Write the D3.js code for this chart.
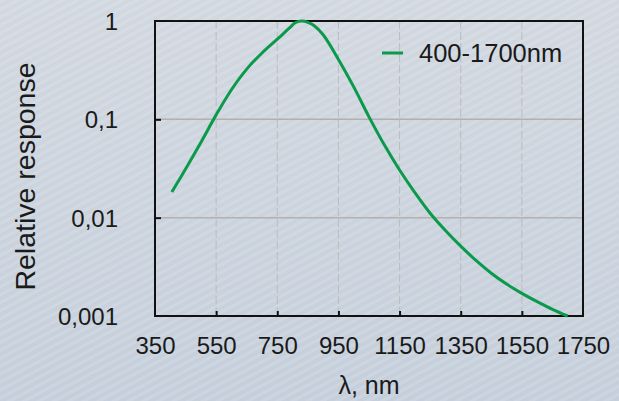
<!DOCTYPE html>
<html>
<head>
<meta charset="utf-8">
<script src="https://cdn.jsdelivr.net/npm/d3@7"></script>
<style>
  html, body { margin: 0; padding: 0; background: #ccd4de; }
  svg { display: block; font-family: "Liberation Sans", Arial, sans-serif; }
</style>
</head>
<body>
<svg id="chart" width="619" height="401"></svg>
<script>
// values
const wavelength = [405, 450, 500, 550, 600, 650, 700, 750, 790, 810, 830, 850, 870, 900, 950, 1000,
  1050, 1100, 1150, 1200, 1250, 1300, 1350, 1400, 1450, 1500, 1550, 1600, 1650, 1700];
const response = [0.0182, 0.0313, 0.0582, 0.111, 0.20, 0.324, 0.473, 0.653, 0.851, 0.965, 1.0, 0.97, 0.90, 0.724, 0.407, 0.214,
  0.106, 0.055, 0.0305, 0.018, 0.0111, 0.00741, 0.00513, 0.00367, 0.00272, 0.00211, 0.0017, 0.0014, 0.00117, 0.001];
const seriesName = "400-1700nm";
const xTicks = [350, 550, 750, 950, 1150, 1350, 1550, 1750];
const yTicks = [0.001, 0.01, 0.1, 1];
const yTickLabels = ["0,001", "0,01", "0,1", "1"];

const width = 619, height = 401;
const margin = { top: 21, right: 36, bottom: 85, left: 155 };
const green = "#0b9a4b";

const svg = d3.select("#chart");

// background: bluish gradient with faint diagonal stripes
const defs = svg.append("defs");
const grad = defs.append("linearGradient")
  .attr("id", "bg").attr("x1", 0).attr("y1", 0).attr("x2", 0).attr("y2", 1);
grad.append("stop").attr("offset", "0%").attr("stop-color", "#d2d8e0");
grad.append("stop").attr("offset", "100%").attr("stop-color", "#c5cfdb");

const stripes = defs.append("pattern")
  .attr("id", "stripes")
  .attr("patternUnits", "userSpaceOnUse")
  .attr("width", 7).attr("height", 7)
  .attr("patternTransform", "rotate(-28)");
stripes.append("rect")
  .attr("width", 7).attr("height", 3)
  .attr("fill", "#ffffff").attr("opacity", 0.12);

svg.append("rect").attr("width", width).attr("height", height).attr("fill", "url(#bg)");
svg.append("rect").attr("width", width).attr("height", height).attr("fill", "url(#stripes)");

const x = d3.scaleLinear()
  .domain([350, 1750])
  .range([margin.left, width - margin.right]);

const y = d3.scaleLog()
  .domain([0.001, 1])
  .range([height - margin.bottom, margin.top]);

// grid
svg.append("g")
  .selectAll("line")
  .data(xTicks.slice(1, -1))
  .join("line")
  .attr("x1", d => x(d)).attr("x2", d => x(d))
  .attr("y1", y(1)).attr("y2", y(0.001))
  .attr("stroke", "#bcbcbc")
  .attr("stroke-width", 1)
  .attr("stroke-dasharray", "8,3");

svg.append("g")
  .selectAll("line")
  .data(yTicks.slice(1, -1))
  .join("line")
  .attr("x1", x(350)).attr("x2", x(1750))
  .attr("y1", d => y(d)).attr("y2", d => y(d))
  .attr("stroke", "#b6b0ab")
  .attr("stroke-width", 1.5);

// axes (ticks pointing inwards)
const xAxis = svg.append("g")
  .attr("transform", `translate(0,${y(0.001)})`)
  .call(d3.axisBottom(x).tickValues(xTicks).tickFormat(d3.format("d"))
    .tickSizeInner(-5).tickSizeOuter(0).tickPadding(10));

const yAxis = svg.append("g")
  .attr("transform", `translate(${x(350)},0)`)
  .call(d3.axisLeft(y).tickValues(yTicks).tickFormat((d, i) => yTickLabels[i])
    .tickSizeInner(-6).tickSizeOuter(0).tickPadding(37));

[xAxis, yAxis].forEach(g => {
  g.select(".domain").remove();
  g.selectAll(".tick line").attr("stroke", "#111").attr("stroke-width", 2);
  g.selectAll(".tick text").attr("fill", "#1a1a1a").attr("font-size", 24)
    .attr("font-family", "'Liberation Sans', Arial, sans-serif");
});
xAxis.selectAll(".tick text").attr("dy", "0.72em").attr("y", 21);
yAxis.selectAll(".tick text").attr("dy", "0.36em");
yAxis.selectAll(".tick").filter(d => d === 0.001 || d === 1).select("line").remove();
xAxis.selectAll(".tick").filter(d => d === 350 || d === 1750).select("line").remove();

// frame
svg.append("rect")
  .attr("x", x(350)).attr("y", y(1))
  .attr("width", x(1750) - x(350))
  .attr("height", y(0.001) - y(1))
  .attr("fill", "none")
  .attr("stroke", "#111")
  .attr("stroke-width", 2);

// curve
const line = d3.line()
  .x((d, i) => x(wavelength[i]))
  .y(d => y(d))
  .curve(d3.curveCatmullRom.alpha(0.5));

svg.append("path")
  .datum(response)
  .attr("d", line)
  .attr("fill", "none")
  .attr("stroke", green)
  .attr("stroke-width", 3);

// legend
const legend = svg.append("g");
legend.append("line")
  .attr("x1", 382).attr("x2", 403)
  .attr("y1", 53).attr("y2", 53)
  .attr("stroke", green).attr("stroke-width", 3);
legend.append("text")
  .attr("x", 419).attr("y", 62)
  .attr("font-size", 25.5)
  .attr("fill", "#1a1a1a")
  .text(seriesName);

// axis titles
svg.append("text")
  .attr("transform", `translate(35,${(y(1) + y(0.001)) / 2 + 8}) rotate(-90)`)
  .attr("text-anchor", "middle")
  .attr("font-size", 28.5)
  .attr("fill", "#1a1a1a")
  .text("Relative response");

svg.append("text")
  .attr("x", (x(350) + x(1750)) / 2)
  .attr("y", 394)
  .attr("text-anchor", "middle")
  .attr("font-size", 25)
  .attr("fill", "#1a1a1a")
  .text("λ, nm");
</script>
</body>
</html>
